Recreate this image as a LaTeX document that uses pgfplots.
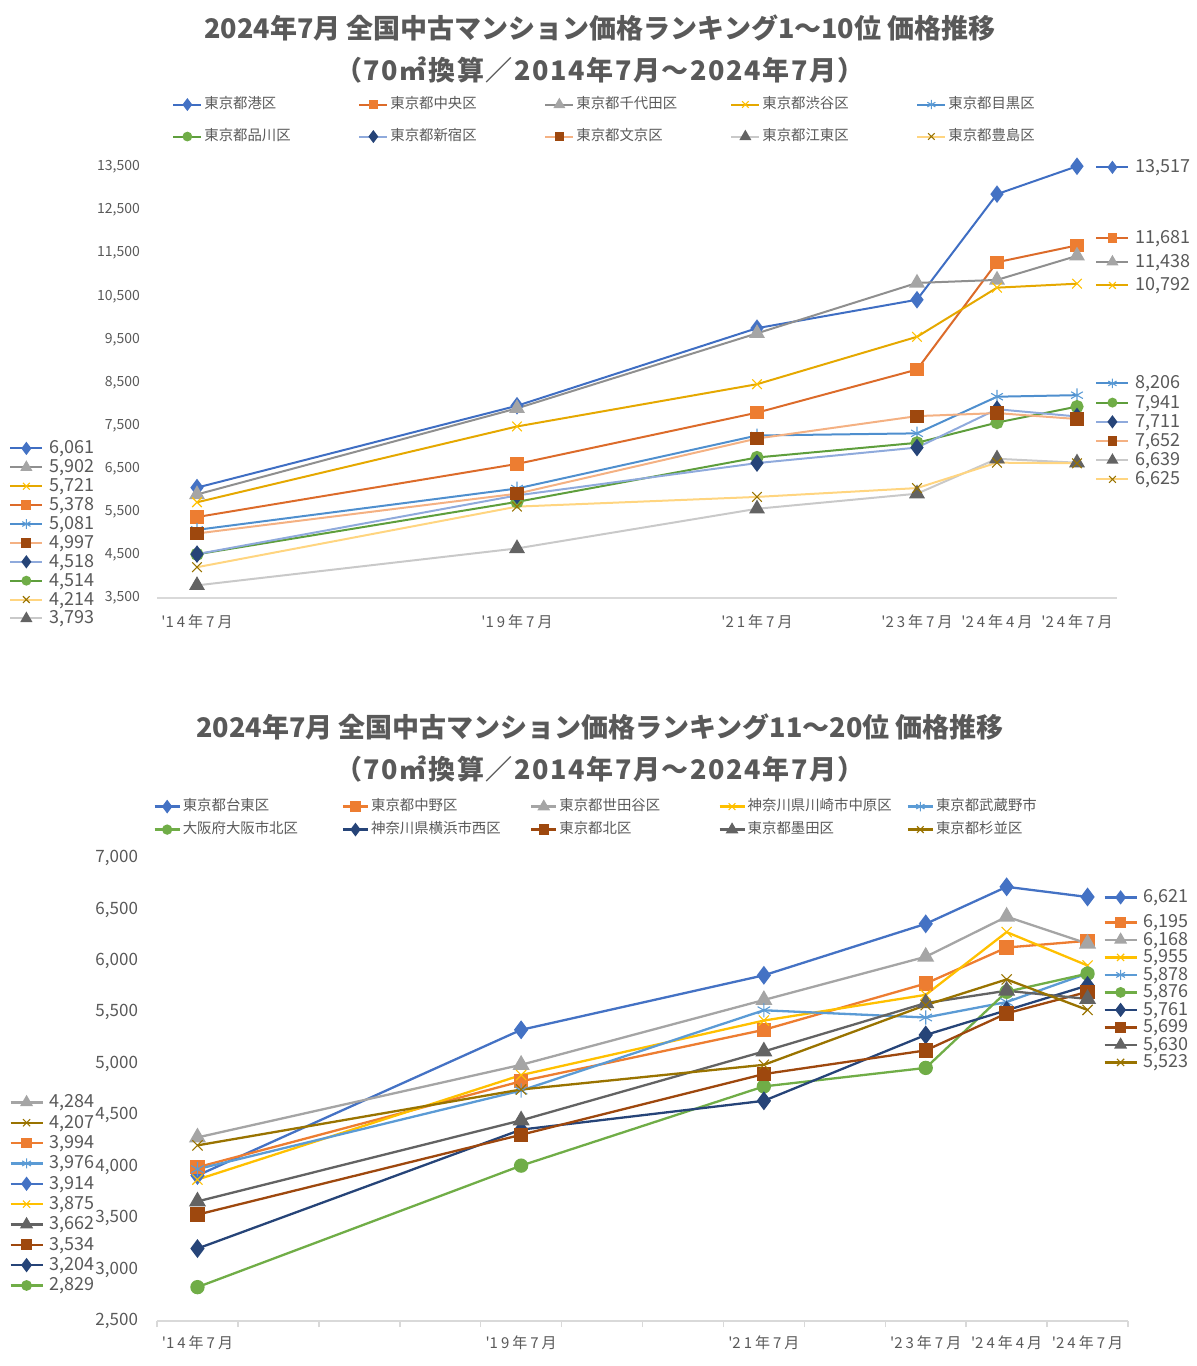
\documentclass[border=0pt]{standalone}
\usepackage{fontspec}
\setmainfont{Noto Sans CJK JP}
\usepackage{pgfplots}
\pgfplotsset{compat=1.18}

\definecolor{c1}{HTML}{4472C4}
\definecolor{c2}{HTML}{ED7D31}
\definecolor{c3}{HTML}{A5A5A5}
\definecolor{c4}{HTML}{FFC000}
\definecolor{c5}{HTML}{5B9BD5}
\definecolor{c6}{HTML}{70AD47}
\definecolor{c7}{HTML}{264478}
\definecolor{c8}{HTML}{9E480E}
\definecolor{c9}{HTML}{636363}
\definecolor{c10}{HTML}{997300}
\definecolor{l1}{HTML}{3F6EC3}
\definecolor{l2}{HTML}{DC6B2A}
\definecolor{l3}{HTML}{8F8F8F}
\definecolor{l4}{HTML}{E5A800}
\definecolor{l5}{HTML}{4F8FCE}
\definecolor{l6}{HTML}{5E9E3C}
\definecolor{l7}{HTML}{8FAADC}
\definecolor{l8}{HTML}{F4B183}
\definecolor{l9}{HTML}{C9C9C9}
\definecolor{l10}{HTML}{FFD580}
\definecolor{txt}{HTML}{595959}
\definecolor{axl}{HTML}{D9D9D9}

\tikzset{
 T1/.style={draw=l1, line width=1pt, mark=diamond*, mark size=3.6pt, mark options={solid, draw=c1, fill=c1}},
 T2/.style={draw=l2, line width=1pt, mark=square*, mark size=2.8pt, mark options={solid, draw=c2, fill=c2}},
 T3/.style={draw=l3, line width=1pt, mark=triangle*, mark size=3.6pt, mark options={solid, draw=c3, fill=c3}},
 T4/.style={draw=l4, line width=1pt, mark=x, mark size=3.4pt, mark options={solid, draw=c4, line width=0.55pt}},
 T5/.style={draw=l5, line width=1pt, mark=asterisk, mark size=3.4pt, mark options={solid, draw=c5, line width=0.55pt}},
 T6/.style={draw=l6, line width=1pt, mark=*, mark size=2.8pt, mark options={solid, draw=c6, fill=c6}},
 T7/.style={draw=l7, line width=1pt, mark=diamond*, mark size=3.6pt, mark options={solid, draw=c7, fill=c7}},
 T8/.style={draw=l8, line width=1pt, mark=square*, mark size=2.8pt, mark options={solid, draw=c8, fill=c8}},
 T9/.style={draw=l9, line width=1pt, mark=triangle*, mark size=3.6pt, mark options={solid, draw=c9, fill=c9}},
 T10/.style={draw=l10, line width=1pt, mark=x, mark size=3.4pt, mark options={solid, draw=c10, line width=0.55pt}},
 B1/.style={draw=c1, line width=1.15pt, mark=diamond*, mark size=3.8pt, mark options={solid, draw=c1, fill=c1}},
 B2/.style={draw=c2, line width=1.15pt, mark=square*, mark size=3pt, mark options={solid, draw=c2, fill=c2}},
 B3/.style={draw=c3, line width=1.15pt, mark=triangle*, mark size=3.8pt, mark options={solid, draw=c3, fill=c3}},
 B4/.style={draw=c4, line width=1.15pt, mark=x, mark size=3.6pt, mark options={solid, draw=c4, line width=0.55pt}},
 B5/.style={draw=c5, line width=1.15pt, mark=asterisk, mark size=3.6pt, mark options={solid, draw=c5, line width=0.55pt}},
 B6/.style={draw=c6, line width=1.15pt, mark=*, mark size=3pt, mark options={solid, draw=c6, fill=c6}},
 B7/.style={draw=c7, line width=1.15pt, mark=diamond*, mark size=3.8pt, mark options={solid, draw=c7, fill=c7}},
 B8/.style={draw=c8, line width=1.15pt, mark=square*, mark size=3pt, mark options={solid, draw=c8, fill=c8}},
 B9/.style={draw=c9, line width=1.15pt, mark=triangle*, mark size=3.8pt, mark options={solid, draw=c9, fill=c9}},
 B10/.style={draw=c10, line width=1.15pt, mark=x, mark size=3.6pt, mark options={solid, draw=c10, line width=0.55pt}},
}

\pgfplotsset{
 keyA/.style={legend image code/.code={\draw[mark repeat=2,mark phase=2,##1,every mark/.append style={scale=0.68}] plot coordinates {(0pt,0pt)(7pt,0pt)(14pt,0pt)};}},
 keyB/.style={legend image code/.code={\draw[mark repeat=2,mark phase=2,##1,every mark/.append style={scale=0.7}] plot coordinates {(0pt,0pt)(8pt,0pt)(16pt,0pt)};}},
 keyC/.style={legend image code/.code={\draw[mark repeat=2,mark phase=2,##1,every mark/.append style={scale=0.66}] plot coordinates {(0pt,0pt)(6.25pt,0pt)(12.5pt,0pt)};}},
 base/.style={scale only axis, clip=false,
   axis x line*=bottom, axis y line*=left,
   x axis line style={draw=axl, line width=0.75pt, -},
   y axis line style={draw=none}, ytick style={draw=none},
   tick label style={text=txt},
   scaled y ticks=false,
   /pgf/number format/1000 sep={,},
   /pgf/number format/assume math mode=true,
   legend cell align=left,
   xmin=-0.5, xmax=11.5,
   xtick={0,4,7,9,10,11},
   xticklabels={\textquotesingle14年7月,\textquotesingle19年7月,\textquotesingle21年7月,\textquotesingle23年7月,\textquotesingle24年4月,\textquotesingle24年7月},
   major tick length=0pt},
 lab/.style={scale only axis, hide axis, xmin=0, xmax=1, ymin=0, ymax=1, keyB, legend cell align=left,
   legend style={draw=none, fill=none, inner sep=0pt, anchor=north west,
     font=\fontsize{9}{10}\selectfont, text=txt,
     /tikz/every odd column/.append style={column sep=3pt},
     nodes={inner sep=0pt, text height=6pt, text depth=0.5pt}}},
}

\newcommand{\LE}[1]{\makebox[76pt][l]{#1}}
\newcommand{\LF}[1]{\makebox[78.5pt][l]{#1}}

\begin{document}
\begin{tikzpicture}
\useasboundingbox (0,0) rectangle (598.5pt,683pt);

\node[font=\bfseries\fontsize{13.5}{15}\selectfont, text=txt] at (300pt,669pt) {2024年7月 全国中古マンション価格ランキング1～10位 価格推移};
\node[font=\bfseries\fontsize{13.5}{15}\selectfont\addfontfeature{LetterSpace=6}, text=txt] at (300pt,648pt) {（70㎡換算／2014年7月～2024年7月）};
\node[font=\bfseries\fontsize{13.5}{15}\selectfont, text=txt] at (300pt,319.5pt) {2024年7月 全国中古マンション価格ランキング11～20位 価格推移};
\node[font=\bfseries\fontsize{13.5}{15}\selectfont\addfontfeature{LetterSpace=6}, text=txt] at (300pt,298.5pt) {（70㎡換算／2014年7月～2024年7月）};

% ---------------- top chart ----------------
\begin{axis}[base, keyA, at={(78.5pt,384pt)}, anchor=south west, width=480pt, height=215.5pt,
  ymin=3500, ymax=13500, ytick={3500,4500,...,13500},
  yticklabel style={font=\fontsize{7}{8}\selectfont, xshift=-5pt},
  xticklabel style={font=\fontsize{7.5}{8}\selectfont\addfontfeature{LetterSpace=20}, yshift=-5pt},
  legend columns=5,
  legend style={draw=none, fill=none, inner sep=0pt, at={(0.0156,1.162)}, anchor=north west,
    font=\fontsize{7.2}{8}\selectfont, text=txt, row sep=9pt,
    /tikz/every odd column/.append style={column sep=1pt},
    /tikz/every even column/.append style={column sep=1pt},
    nodes={inner sep=0pt, text height=5.5pt, text depth=1.5pt}},
]
\addplot[T1] coordinates {(0,6061)(4,7960)(7,9760)(9,10420)(10,12870)(11,13517)};
\addlegendentry{\LE{東京都港区}}
\addplot[T2] coordinates {(0,5378)(4,6610)(7,7800)(9,8800)(10,11290)(11,11681)};
\addlegendentry{\LE{東京都中央区}}
\addplot[T3] coordinates {(0,5902)(4,7900)(7,9640)(9,10810)(10,10880)(11,11438)};
\addlegendentry{\LE{東京都千代田区}}
\addplot[T4] coordinates {(0,5721)(4,7480)(7,8460)(9,9560)(10,10700)(11,10792)};
\addlegendentry{\LE{東京都渋谷区}}
\addplot[T5] coordinates {(0,5081)(4,6040)(7,7270)(9,7320)(10,8170)(11,8206)};
\addlegendentry{\LE{東京都目黒区}}
\addplot[T6] coordinates {(0,4514)(4,5730)(7,6760)(9,7100)(10,7570)(11,7941)};
\addlegendentry{\LE{東京都品川区}}
\addplot[T7] coordinates {(0,4518)(4,5880)(7,6630)(9,6990)(10,7880)(11,7711)};
\addlegendentry{\LE{東京都新宿区}}
\addplot[T8] coordinates {(0,4997)(4,5920)(7,7200)(9,7720)(10,7790)(11,7652)};
\addlegendentry{\LE{東京都文京区}}
\addplot[T9] coordinates {(0,3793)(4,4650)(7,5570)(9,5920)(10,6730)(11,6639)};
\addlegendentry{\LE{東京都江東区}}
\addplot[T10] coordinates {(0,4214)(4,5620)(7,5845)(9,6050)(10,6640)(11,6625)};
\addlegendentry{\LE{東京都豊島区}}
\end{axis}

% top labels, left
\begin{axis}[lab, at={(78.5pt,384pt)}, anchor=south west, width=480pt, height=215.5pt,
  legend style={at={(-0.1542,0.3631)}, row sep=2.95pt}]
\addlegendimage{T1}\addlegendentry{6,061}
\addlegendimage{T3}\addlegendentry{5,902}
\addlegendimage{T4}\addlegendentry{5,721}
\addlegendimage{T2}\addlegendentry{5,378}
\addlegendimage{T5}\addlegendentry{5,081}
\addlegendimage{T8}\addlegendentry{4,997}
\addlegendimage{T7}\addlegendentry{4,518}
\addlegendimage{T6}\addlegendentry{4,514}
\addlegendimage{T10}\addlegendentry{4,214}
\addlegendimage{T9}\addlegendentry{3,793}
\end{axis}
% top labels, right
\begin{axis}[lab, at={(78.5pt,384pt)}, anchor=south west, width=480pt, height=215.5pt,
  legend style={at={(0.9771,1.0151)}}]
\addlegendimage{T1}\addlegendentry{13,517}
\end{axis}
\begin{axis}[lab, at={(78.5pt,384pt)}, anchor=south west, width=480pt, height=215.5pt,
  legend style={at={(0.9771,0.8503)}, row sep=5.25pt}]
\addlegendimage{T2}\addlegendentry{11,681}
\addlegendimage{T3}\addlegendentry{11,438}
\addlegendimage{T4}\addlegendentry{10,792}
\end{axis}
\begin{axis}[lab, at={(78.5pt,384pt)}, anchor=south west, width=480pt, height=215.5pt,
  legend style={at={(0.9771,0.5139)}, row sep=3.1pt}]
\addlegendimage{T5}\addlegendentry{8,206}
\addlegendimage{T6}\addlegendentry{7,941}
\addlegendimage{T7}\addlegendentry{7,711}
\addlegendimage{T8}\addlegendentry{7,652}
\addlegendimage{T9}\addlegendentry{6,639}
\addlegendimage{T10}\addlegendentry{6,625}
\end{axis}

% ---------------- bottom chart ----------------
\begin{axis}[base, keyC, at={(78.5pt,22.5pt)}, anchor=south west, width=485.5pt, height=231.5pt,
  ymin=2500, ymax=7000, ytick={2500,3000,...,7000},
  minor xtick={-0.5,0.5,...,11.5}, minor tick length=3pt, tick align=outside,
  minor tick style={draw=axl, line width=0.75pt},
  yticklabel style={font=\fontsize{8.5}{9}\selectfont, xshift=-6pt},
  xticklabel style={font=\fontsize{7.5}{8}\selectfont\addfontfeature{LetterSpace=20}, yshift=-4pt},
  legend columns=5,
  legend style={draw=none, fill=none, inner sep=0pt, at={(-0.004,1.127)}, anchor=north west,
    font=\fontsize{7.2}{8}\selectfont, text=txt, row sep=4.5pt,
    /tikz/every odd column/.append style={column sep=1pt},
    /tikz/every even column/.append style={column sep=1pt},
    nodes={inner sep=0pt, text height=5.5pt, text depth=1.5pt}},
]
\addplot[B1] coordinates {(0,3914)(4,5330)(7,5860)(9,6360)(10,6720)(11,6621)};
\addlegendentry{\LF{東京都台東区}}
\addplot[B2] coordinates {(0,3994)(4,4830)(7,5330)(9,5780)(10,6130)(11,6195)};
\addlegendentry{\LF{東京都中野区}}
\addplot[B3] coordinates {(0,4284)(4,4990)(7,5620)(9,6040)(10,6430)(11,6168)};
\addlegendentry{\LF{東京都世田谷区}}
\addplot[B4] coordinates {(0,3875)(4,4890)(7,5420)(9,5670)(10,6280)(11,5955)};
\addlegendentry{\LF{神奈川県川崎市中原区}}
\addplot[B5] coordinates {(0,3976)(4,4740)(7,5520)(9,5450)(10,5600)(11,5878)};
\addlegendentry{\LF{東京都武蔵野市}}
\addplot[B6] coordinates {(0,2829)(4,4010)(7,4780)(9,4960)(10,5700)(11,5876)};
\addlegendentry{\LF{大阪府大阪市北区}}
\addplot[B7] coordinates {(0,3204)(4,4360)(7,4640)(9,5280)(10,5520)(11,5761)};
\addlegendentry{\LF{神奈川県横浜市西区}}
\addplot[B8] coordinates {(0,3534)(4,4310)(7,4900)(9,5130)(10,5490)(11,5699)};
\addlegendentry{\LF{東京都北区}}
\addplot[B9] coordinates {(0,3662)(4,4450)(7,5120)(9,5590)(10,5710)(11,5630)};
\addlegendentry{\LF{東京都墨田区}}
\addplot[B10] coordinates {(0,4207)(4,4750)(7,4990)(9,5570)(10,5820)(11,5523)};
\addlegendentry{\LF{東京都杉並区}}
\end{axis}

% bottom labels, left
\begin{axis}[lab, at={(78.5pt,22.5pt)}, anchor=south west, width=485.5pt, height=231.5pt,
  legend style={at={(-0.1524,0.4870)}, row sep=3.67pt}]
\addlegendimage{B3}\addlegendentry{4,284}
\addlegendimage{B10}\addlegendentry{4,207}
\addlegendimage{B2}\addlegendentry{3,994}
\addlegendimage{B5}\addlegendentry{3,976}
\addlegendimage{B1}\addlegendentry{3,914}
\addlegendimage{B4}\addlegendentry{3,875}
\addlegendimage{B9}\addlegendentry{3,662}
\addlegendimage{B8}\addlegendentry{3,534}
\addlegendimage{B7}\addlegendentry{3,204}
\addlegendimage{B6}\addlegendentry{2,829}
\end{axis}
% bottom labels, right
\begin{axis}[lab, at={(78.5pt,22.5pt)}, anchor=south west, width=485.5pt, height=231.5pt,
  legend style={at={(0.9743,0.9298)}}]
\addlegendimage{B1}\addlegendentry{6,621}
\end{axis}
\begin{axis}[lab, at={(78.5pt,22.5pt)}, anchor=south west, width=485.5pt, height=231.5pt,
  legend style={at={(0.9743,0.8758)}, row sep=2.25pt}]
\addlegendimage{B2}\addlegendentry{6,195}
\addlegendimage{B3}\addlegendentry{6,168}
\addlegendimage{B4}\addlegendentry{5,955}
\addlegendimage{B5}\addlegendentry{5,878}
\addlegendimage{B6}\addlegendentry{5,876}
\addlegendimage{B7}\addlegendentry{5,761}
\addlegendimage{B8}\addlegendentry{5,699}
\addlegendimage{B9}\addlegendentry{5,630}
\addlegendimage{B10}\addlegendentry{5,523}
\end{axis}
\end{tikzpicture}
\end{document}
